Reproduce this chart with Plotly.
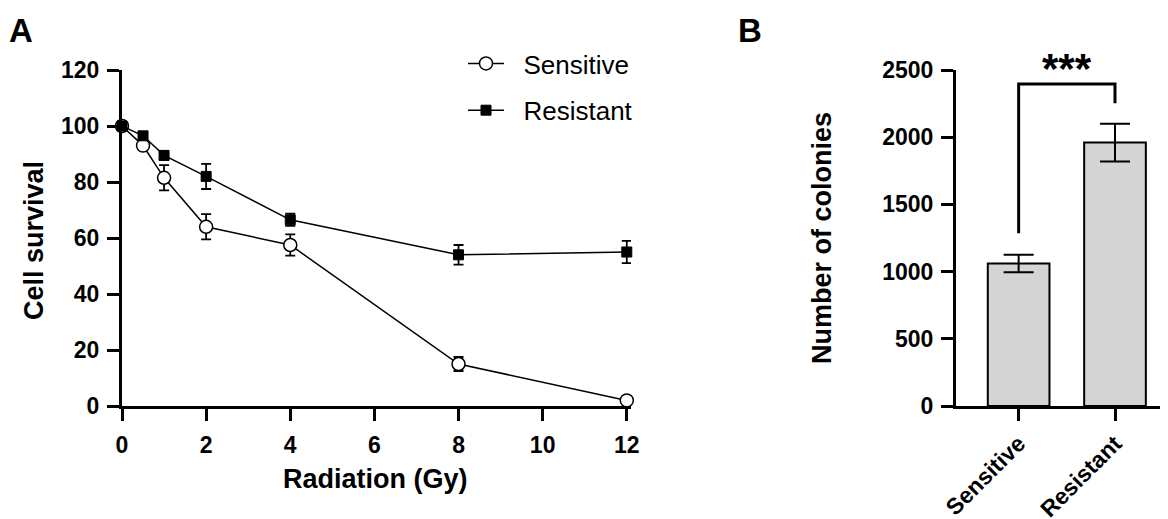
import plotly.graph_objects as go

# ---- Panel A data ----
dose_gy = [0, 0.5, 1, 2, 4, 8, 12]
sensitive_survival = [100, 93, 81.5, 64, 57.5, 15, 2]
sensitive_err = [0.8, 1.5, 4.5, 4.5, 3.8, 2.5, 1.0]
resistant_survival = [100, 96.5, 89.5, 82, 66.5, 54, 55]
resistant_err = [0.8, 1.0, 1.5, 4.5, 2.2, 3.5, 4.0]
a_xticks = [0, 2, 4, 6, 8, 10, 12]
a_yticks = [0, 20, 40, 60, 80, 100, 120]

# ---- Panel B data ----
groups = ["Sensitive", "Resistant"]
colonies = [1060, 1960]
colonies_err = [65, 140]
b_yticks = [0, 500, 1000, 1500, 2000, 2500]
bracket_x = [0, 0, 1, 1]
bracket_y = [1285, 2395, 2395, 2253]
signif_label = "***"

FONT = "Arial, Liberation Sans, sans-serif"
# the page body has an 8px default margin; the figure is sized/placed to compensate
OFF = 8
W, H = 1168 - OFF, 519 - OFF

fig = go.Figure()

NB = "\u00a0\u00a0"
fig.add_trace(go.Scatter(
    x=dose_gy, y=sensitive_survival, name=NB + "Sensitive", mode="lines+markers",
    legendgroup="s",
    line=dict(color="black", width=1.5),
    marker=dict(symbol="circle", size=13, color="white", line=dict(color="black", width=1.5)),
    error_y=dict(type="data", array=sensitive_err, color="black", thickness=1.8, width=5),
    cliponaxis=False, xaxis="x", yaxis="y"))
fig.add_trace(go.Scatter(
    x=dose_gy, y=resistant_survival, name=NB + "Resistant", mode="lines+markers",
    legendgroup="r",
    line=dict(color="black", width=1.5),
    marker=dict(symbol="square", size=10, color="black", line=dict(color="black", width=1)),
    error_y=dict(type="data", array=resistant_err, color="black", thickness=1.8, width=5),
    cliponaxis=False, xaxis="x", yaxis="y"))

fig.add_trace(go.Bar(
    x=[0, 1], y=colonies, width=0.64, showlegend=False,
    marker=dict(color="#d4d4d4", line=dict(color="black", width=2)),
    error_y=dict(type="data", array=colonies_err, color="black", thickness=2, width=15),
    xaxis="x2", yaxis="y2"))
fig.add_trace(go.Scatter(
    x=bracket_x, y=bracket_y, mode="lines", showlegend=False,
    line=dict(color="black", width=3), cliponaxis=False, xaxis="x2", yaxis="y2"))

tick_font = dict(family=FONT, size=23, color="black", weight="bold")
axis_common = dict(showline=True, linecolor="black", linewidth=3, ticks="outside",
                   ticklen=12, tickwidth=3, tickcolor="black", showgrid=False,
                   zeroline=False, automargin=False, tickfont=tick_font)


def px_x(p):
    return (p - OFF) / W


def px_y(p):
    return 1 - (p - OFF) / H


fig.update_layout(
    template="none",
    width=W, height=H, margin=dict(l=0, r=0, t=0, b=0, autoexpand=False),
    plot_bgcolor="white", paper_bgcolor="white",
    xaxis=dict(domain=[px_x(122), px_x(631)], range=[0, 12.1], tickvals=a_xticks,
               anchor="y", ticklabelstandoff=4, **axis_common),
    yaxis=dict(domain=[px_y(406), px_y(70)], range=[0, 120], tickvals=a_yticks,
               anchor="x", ticklabelstandoff=3, **axis_common),
    xaxis2=dict(domain=[px_x(956), 1.0], range=[-0.65, 1.55], tickvals=[0, 1],
                ticktext=groups, tickangle=-45, anchor="y2", ticklabelstandoff=0,
                **axis_common),
    yaxis2=dict(domain=[px_y(406), px_y(70)], range=[0, 2500], tickvals=b_yticks,
                anchor="x2", ticklabelstandoff=3, **axis_common),
    legend=dict(x=px_x(463), y=px_y(40), xanchor="left", yanchor="top",
                font=dict(family=FONT, size=26, color="black"),
                bgcolor="rgba(0,0,0,0)", tracegroupgap=10, traceorder="grouped",
                itemwidth=36),
    showlegend=True,
)

ann_font = dict(family=FONT, size=27, color="black", weight="bold")
fig.add_annotation(text="Cell survival", x=px_x(34), y=px_y(241), xref="paper", yref="paper",
                   xanchor="center", yanchor="middle", textangle=-90, showarrow=False, font=ann_font)
fig.add_annotation(text="Radiation (Gy)", x=px_x(375), y=px_y(479), xref="paper", yref="paper",
                   xanchor="center", yanchor="middle", showarrow=False, font=ann_font)
fig.add_annotation(text="Number of colonies", x=px_x(822), y=px_y(238), xref="paper", yref="paper",
                   xanchor="center", yanchor="middle", textangle=-90, showarrow=False, font=ann_font)
fig.add_annotation(text=signif_label, x=0.5, y=px_y(69), xref="x2", yref="paper",
                   xanchor="center", yanchor="middle", showarrow=False,
                   font=dict(family=FONT, size=42, color="black", weight="bold"))
fig.add_annotation(text="A", x=px_x(21), y=px_y(30), xref="paper", yref="paper",
                   xanchor="center", yanchor="middle", showarrow=False,
                   font=dict(family=FONT, size=33, color="black", weight="bold"))
fig.add_annotation(text="B", x=px_x(750), y=px_y(30), xref="paper", yref="paper",
                   xanchor="center", yanchor="middle", showarrow=False,
                   font=dict(family=FONT, size=33, color="black", weight="bold"))

fig.write_html("out.html")
